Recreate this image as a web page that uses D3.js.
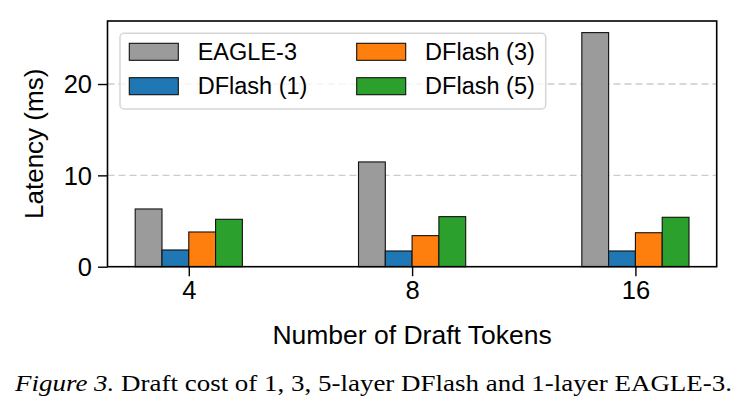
<!DOCTYPE html>
<html><head><meta charset="utf-8">
<script src="https://cdn.jsdelivr.net/npm/d3@7"></script>
<style>body{margin:0;background:#fff}svg{display:block}</style>
</head><body>
<svg id="c" width="739" height="417"></svg>
<script>
const categories = ["4", "8", "16"];
const seriesNames = ["EAGLE-3", "DFlash (1)", "DFlash (3)", "DFlash (5)"];
const eagle3 = [6.32, 11.47, 25.63];
const dflash1 = [1.83, 1.72, 1.72];
const dflash3 = [3.80, 3.40, 3.72];
const dflash5 = [5.19, 5.48, 5.41];
const colors = ["#9b9b9b", "#1f77b4", "#ff7f0e", "#2ca02c"];
const yTicks = [0, 10, 20];
const gridTicks = [10, 20];
const series = [eagle3, dflash1, dflash3, dflash5];

const svg = d3.select("#c");
const L = 107.5, R = 716.7, T = 21, B = 266.7;
const barW = 0.12;
const x = d3.scaleLinear().domain([-0.364, 2.364]).range([L, R]);
const y = d3.scaleLinear().domain([0, 26.9]).range([B, T]);
const font = "'Liberation Sans', Arial, Helvetica, sans-serif";

// grid
svg.append("g").selectAll("line").data(gridTicks).join("line")
  .attr("x1", L).attr("x2", R).attr("y1", d => y(d)).attr("y2", d => y(d))
  .attr("stroke", "#cccccc").attr("stroke-width", 1.3).attr("stroke-dasharray", "7,4");

// bars
const offsets = [-1.5, -0.5, 0.5, 1.5];
series.forEach((vals, si) => {
  svg.append("g").selectAll("rect").data(vals).join("rect")
    .attr("x", (d, i) => x(i + offsets[si] * barW - barW / 2))
    .attr("width", x(barW) - x(0))
    .attr("y", d => y(d))
    .attr("height", d => y(0) - y(d))
    .attr("fill", colors[si]).attr("stroke", "#111").attr("stroke-width", 1.1);
});

// axes
const xAxis = d3.axisBottom(x).tickValues([0, 1, 2]).tickFormat(i => categories[i]).tickSizeOuter(0).tickSize(9.5).tickPadding(5);
const gx = svg.append("g").attr("transform", `translate(0,${B})`).call(xAxis);
const yAxis = d3.axisLeft(y).tickValues(yTicks).tickSizeOuter(0).tickSize(9.5).tickPadding(6);
const gy = svg.append("g").attr("transform", `translate(${L},0)`).call(yAxis);
[gx, gy].forEach(g => {
  g.select(".domain").remove();
  g.selectAll(".tick line").attr("stroke", "#000").attr("stroke-width", 1.4);
  g.selectAll(".tick text").attr("font-family", font).attr("font-size", 25.5).attr("fill", "#000");
});
gx.selectAll(".tick text").attr("dy", "0.7em");
gy.selectAll(".tick text").attr("dy", "0.35em");

// frame
svg.append("rect").attr("x", L).attr("y", T).attr("width", R - L).attr("height", B - T)
  .attr("fill", "none").attr("stroke", "#000").attr("stroke-width", 1.6);

// axis labels
svg.append("text").attr("x", (L + R) / 2).attr("y", 344).attr("text-anchor", "middle")
  .attr("font-family", font).attr("font-size", 26.5).text("Number of Draft Tokens");
svg.append("text").attr("transform", `translate(43,${(T + B) / 2}) rotate(-90)`).attr("text-anchor", "middle")
  .attr("font-family", font).attr("font-size", 26).text("Latency (ms)");

// legend
const lg = svg.append("g");
lg.append("rect").attr("x", 120).attr("y", 33.3).attr("width", 425.7).attr("height", 75.7).attr("rx", 4)
  .attr("fill", "#fff").attr("fill-opacity", 0.8).attr("stroke", "#d6d6d6").attr("stroke-width", 1.5);
const legPos = [[129.3, 43.3], [129.3, 77.7], [356.7, 43.3], [356.7, 77.7]];
seriesNames.forEach((n, i) => {
  const [lx, ly] = legPos[i];
  lg.append("rect").attr("x", lx).attr("y", ly).attr("width", 49).attr("height", 17)
    .attr("fill", colors[i]).attr("stroke", "#111").attr("stroke-width", 1.1);
  lg.append("text").attr("x", lx + 68.4).attr("y", ly + 16.3).attr("font-family", font).attr("font-size", 23.5).text(n);
});

// caption
const cap = svg.append("text").attr("x", 15).attr("y", 391)
  .attr("font-family", "'Liberation Serif', 'Times New Roman', serif").attr("font-size", 24)
  .attr("textLength", 717).attr("lengthAdjust", "spacingAndGlyphs");
cap.append("tspan").attr("font-style", "italic").text("Figure 3.");
cap.append("tspan").text(" Draft cost of 1, 3, 5-layer DFlash and 1-layer EAGLE-3.");
</script>
</body></html>
